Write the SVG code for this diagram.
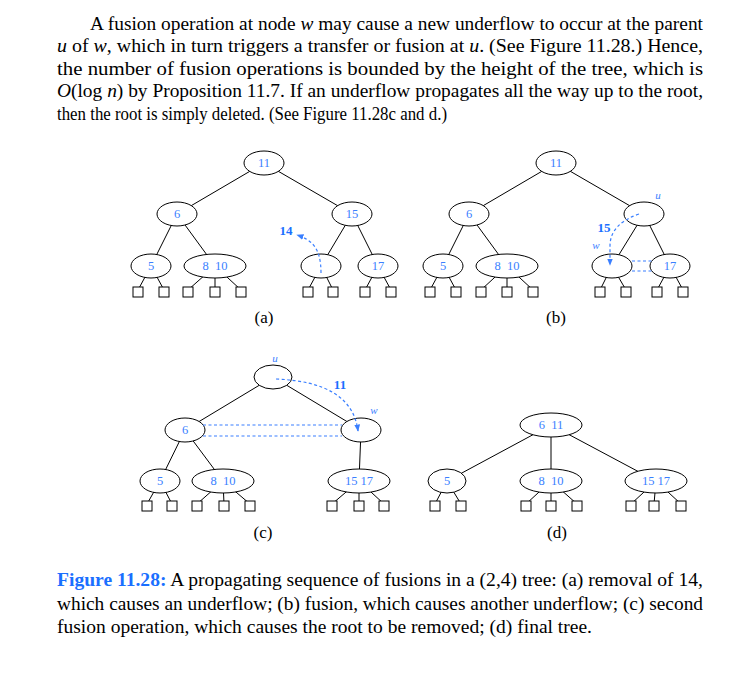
<svg xmlns="http://www.w3.org/2000/svg" width="751" height="682" viewBox="0 0 751 682">
<style>
.t{font-family:"Liberation Serif",serif;font-size:18.5px;fill:#000}
.k{font-family:"Liberation Serif",serif;font-size:12.5px;fill:#3a7fff;text-anchor:middle}
.v{font-family:"Liberation Serif",serif;font-size:11px;font-style:italic;fill:#3a7fff;text-anchor:middle}
.b{font-family:"Liberation Serif",serif;font-size:13px;font-weight:bold;fill:#1a6fff;text-anchor:middle}
.c{font-family:"Liberation Serif",serif;font-size:17px;fill:#000;text-anchor:middle}
ellipse{fill:#fff;stroke:#000;stroke-width:1}
rect{fill:#fff;stroke:#000;stroke-width:1}
.e line{stroke:#000;stroke-width:1}
.d{stroke:#3a7fff;stroke-width:1.2;stroke-dasharray:3,2.5;fill:none}
</style>
<defs><marker id="ar" viewBox="0 0 10 10" refX="9" refY="5" markerWidth="6" markerHeight="6" orient="auto"><path d="M0,1 L10,5 L0,9 z" fill="#3a7fff"/></marker></defs>
<text class="t" x="90" y="30" textLength="613" lengthAdjust="spacingAndGlyphs">A fusion operation at node <tspan font-style="italic">w</tspan> may cause a new underflow to occur at the parent</text>
<text class="t" x="57" y="52" textLength="646" lengthAdjust="spacingAndGlyphs"><tspan font-style="italic">u</tspan> of <tspan font-style="italic">w</tspan>, which in turn triggers a transfer or fusion at <tspan font-style="italic">u</tspan>. (See Figure 11.28.) Hence,</text>
<text class="t" x="57" y="75" textLength="646" lengthAdjust="spacingAndGlyphs">the number of fusion operations is bounded by the height of the tree, which is</text>
<text class="t" x="57" y="97" textLength="646" lengthAdjust="spacingAndGlyphs"><tspan font-style="italic">O</tspan>(log <tspan font-style="italic">n</tspan>) by Proposition 11.7. If an underflow propagates all the way up to the root,</text>
<text class="t" x="57" y="120" textLength="390" lengthAdjust="spacingAndGlyphs">then the root is simply deleted. (See Figure 11.28c and d.)</text>

<g class="e" id="connectors">
<line x1="264" y1="163" x2="177" y2="214"/><line x1="264" y1="163" x2="352" y2="214"/>
<line x1="177" y1="214" x2="151" y2="266"/><line x1="177" y1="214" x2="215" y2="266"/>
<line x1="352" y1="214" x2="321" y2="266"/><line x1="352" y1="214" x2="378" y2="266"/>
<line x1="151" y1="266" x2="138" y2="290"/><line x1="151" y1="266" x2="164" y2="290"/>
<line x1="215" y1="266" x2="188" y2="290"/><line x1="215" y1="266" x2="215" y2="290"/><line x1="215" y1="266" x2="241" y2="290"/>
<line x1="321" y1="266" x2="308" y2="290"/><line x1="321" y1="266" x2="333" y2="290"/>
<line x1="378" y1="266" x2="365" y2="290"/><line x1="378" y1="266" x2="391" y2="290"/>

<line x1="556" y1="163" x2="469" y2="214"/><line x1="556" y1="163" x2="644" y2="214"/>
<line x1="469" y1="214" x2="443" y2="266"/><line x1="469" y1="214" x2="507" y2="266"/>
<line x1="644" y1="214" x2="612" y2="266"/><line x1="644" y1="214" x2="670" y2="266"/>
<line x1="443" y1="266" x2="430" y2="290"/><line x1="443" y1="266" x2="456" y2="290"/>
<line x1="507" y1="266" x2="481" y2="290"/><line x1="507" y1="266" x2="507" y2="290"/><line x1="507" y1="266" x2="533" y2="290"/>
<line x1="612" y1="266" x2="600" y2="290"/><line x1="612" y1="266" x2="626" y2="290"/>
<line x1="670" y1="266" x2="657" y2="290"/><line x1="670" y1="266" x2="683" y2="290"/>

<line x1="273" y1="377" x2="185" y2="430"/><line x1="273" y1="377" x2="361" y2="430"/>
<line x1="185" y1="430" x2="160" y2="481"/><line x1="185" y1="430" x2="223" y2="481"/>
<line x1="361" y1="430" x2="359" y2="481"/>
<line x1="160" y1="481" x2="147" y2="504"/><line x1="160" y1="481" x2="172" y2="504"/>
<line x1="223" y1="481" x2="197" y2="504"/><line x1="223" y1="481" x2="224" y2="504"/><line x1="223" y1="481" x2="250" y2="504"/>
<line x1="359" y1="481" x2="332" y2="504"/><line x1="359" y1="481" x2="359" y2="504"/><line x1="359" y1="481" x2="384" y2="504"/>

<line x1="551" y1="425" x2="447" y2="481"/><line x1="551" y1="425" x2="551" y2="481"/><line x1="551" y1="425" x2="656" y2="481"/>
<line x1="447" y1="481" x2="435" y2="504"/><line x1="447" y1="481" x2="461" y2="504"/>
<line x1="551" y1="481" x2="526" y2="504"/><line x1="551" y1="481" x2="551" y2="504"/><line x1="551" y1="481" x2="577" y2="504"/>
<line x1="656" y1="481" x2="631" y2="504"/><line x1="656" y1="481" x2="654" y2="504"/><line x1="656" y1="481" x2="681" y2="504"/>
</g>

<g id="a">
<g id="a11"><ellipse cx="264" cy="163" rx="20" ry="12"/><text class="k" x="264" y="167">11</text></g>
<g id="a6"><ellipse cx="177" cy="214" rx="20" ry="12"/><text class="k" x="177" y="218">6</text></g>
<g id="a15"><ellipse cx="352" cy="214" rx="20" ry="12"/><text class="k" x="352" y="218">15</text></g>
<g id="a5"><ellipse cx="151" cy="266" rx="20" ry="12"/><text class="k" x="151" y="270">5</text></g>
<g id="a810"><ellipse cx="215" cy="266" rx="31" ry="12"/><text class="k" x="215" y="270" xml:space="preserve">8  10</text></g>
<g id="ae"><ellipse cx="321" cy="266" rx="20" ry="12"/></g>
<g id="a17"><ellipse cx="378" cy="266" rx="20" ry="12"/><text class="k" x="378" y="270">17</text></g>
<g id="aleaves"><rect x="133" y="287" width="10" height="10"/><rect x="159" y="287" width="10" height="10"/><rect x="183" y="287" width="10" height="10"/><rect x="210" y="287" width="10" height="10"/><rect x="236" y="287" width="10" height="10"/><rect x="303" y="287" width="10" height="10"/><rect x="328" y="287" width="10" height="10"/><rect x="360" y="287" width="10" height="10"/><rect x="386" y="287" width="10" height="10"/></g>
<path class="d" d="M321,273 C321,248 312,240 297,235" marker-end="url(#ar)"/>
<text class="b" x="286" y="235">14</text>
<text class="c" x="264" y="323">(a)</text>
</g>

<g id="b">
<g id="b11"><ellipse cx="556" cy="163" rx="20" ry="12"/><text class="k" x="556" y="167">11</text></g>
<g id="b6"><ellipse cx="469" cy="214" rx="20" ry="12"/><text class="k" x="469" y="218">6</text></g>
<g id="bu"><ellipse cx="644" cy="214" rx="20" ry="12"/></g>
<g id="b5"><ellipse cx="443" cy="266" rx="20" ry="12"/><text class="k" x="443" y="270">5</text></g>
<g id="b810"><ellipse cx="507" cy="266" rx="31" ry="12"/><text class="k" x="507" y="270" xml:space="preserve">8  10</text></g>
<g id="bw"><ellipse cx="612" cy="266" rx="20" ry="12"/></g>
<g id="b17"><ellipse cx="670" cy="266" rx="20" ry="12"/><text class="k" x="670" y="270">17</text></g>
<g id="bleaves"><rect x="425" y="287" width="10" height="10"/><rect x="451" y="287" width="10" height="10"/><rect x="476" y="287" width="10" height="10"/><rect x="502" y="287" width="10" height="10"/><rect x="528" y="287" width="10" height="10"/><rect x="595" y="287" width="10" height="10"/><rect x="621" y="287" width="10" height="10"/><rect x="652" y="287" width="10" height="10"/><rect x="678" y="287" width="10" height="10"/></g>
<line class="d" x1="632" y1="261" x2="652" y2="261"/><line class="d" x1="632" y1="271" x2="652" y2="271"/>
<path class="d" d="M639,214 Q610,224 610,246 L610,265" marker-end="url(#ar)"/>
<text class="v" x="658" y="199">u</text><text class="v" x="596" y="249">w</text>
<text class="b" x="604" y="232">15</text>
<text class="c" x="556" y="323">(b)</text>
</g>

<g id="c">
<g id="cu"><ellipse cx="273" cy="377" rx="19" ry="12"/></g>
<g id="c6"><ellipse cx="185" cy="430" rx="20" ry="12"/><text class="k" x="185" y="434">6</text></g>
<g id="cw"><ellipse cx="361" cy="430" rx="20" ry="12"/></g>
<g id="c5"><ellipse cx="160" cy="481" rx="20" ry="12"/><text class="k" x="160" y="485">5</text></g>
<g id="c810"><ellipse cx="223" cy="481" rx="31" ry="12"/><text class="k" x="223" y="485" xml:space="preserve">8  10</text></g>
<g id="c1517"><ellipse cx="359" cy="481" rx="31" ry="12"/><text class="k" x="359" y="485">15 17</text></g>
<g id="cleaves"><rect x="142" y="501" width="10" height="10"/><rect x="167" y="501" width="10" height="10"/><rect x="192" y="501" width="10" height="10"/><rect x="219" y="501" width="10" height="10"/><rect x="245" y="501" width="10" height="10"/><rect x="327" y="501" width="10" height="10"/><rect x="354" y="501" width="10" height="10"/><rect x="379" y="501" width="10" height="10"/></g>
<line class="d" x1="203" y1="425" x2="342" y2="425"/><line class="d" x1="203" y1="436" x2="342" y2="436"/>
<path class="d" d="M276,379 Q352,382 358,431" marker-end="url(#ar)"/>
<text class="v" x="275" y="362">u</text><text class="v" x="374" y="414">w</text>
<text class="b" x="340" y="389">11</text>
<text class="c" x="263" y="538">(c)</text>
</g>

<g id="d">
<g id="d611"><ellipse cx="551" cy="425" rx="31" ry="12"/><text class="k" x="551" y="429" xml:space="preserve">6  11</text></g>
<g id="d5"><ellipse cx="447" cy="481" rx="19" ry="12"/><text class="k" x="447" y="485">5</text></g>
<g id="d810"><ellipse cx="551" cy="481" rx="31" ry="12"/><text class="k" x="551" y="485" xml:space="preserve">8  10</text></g>
<g id="d1517"><ellipse cx="656" cy="481" rx="31" ry="12"/><text class="k" x="656" y="485">15 17</text></g>
<g id="dleaves"><rect x="430" y="501" width="10" height="10"/><rect x="456" y="501" width="10" height="10"/><rect x="521" y="501" width="10" height="10"/><rect x="546" y="501" width="10" height="10"/><rect x="572" y="501" width="10" height="10"/><rect x="626" y="501" width="10" height="10"/><rect x="649" y="501" width="10" height="10"/><rect x="676" y="501" width="10" height="10"/></g>
<text class="c" x="557" y="538">(d)</text>
</g>

<text class="t" x="57" y="586" textLength="646" lengthAdjust="spacingAndGlyphs"><tspan fill="#1a6fff" font-weight="bold">Figure 11.28:</tspan> A propagating sequence of fusions in a (2,4) tree: (a) removal of 14,</text>
<text class="t" x="57" y="610" textLength="646" lengthAdjust="spacingAndGlyphs">which causes an underflow; (b) fusion, which causes another underflow; (c) second</text>
<text class="t" x="57" y="633" textLength="535" lengthAdjust="spacingAndGlyphs">fusion operation, which causes the root to be removed; (d) final tree.</text>
</svg>
